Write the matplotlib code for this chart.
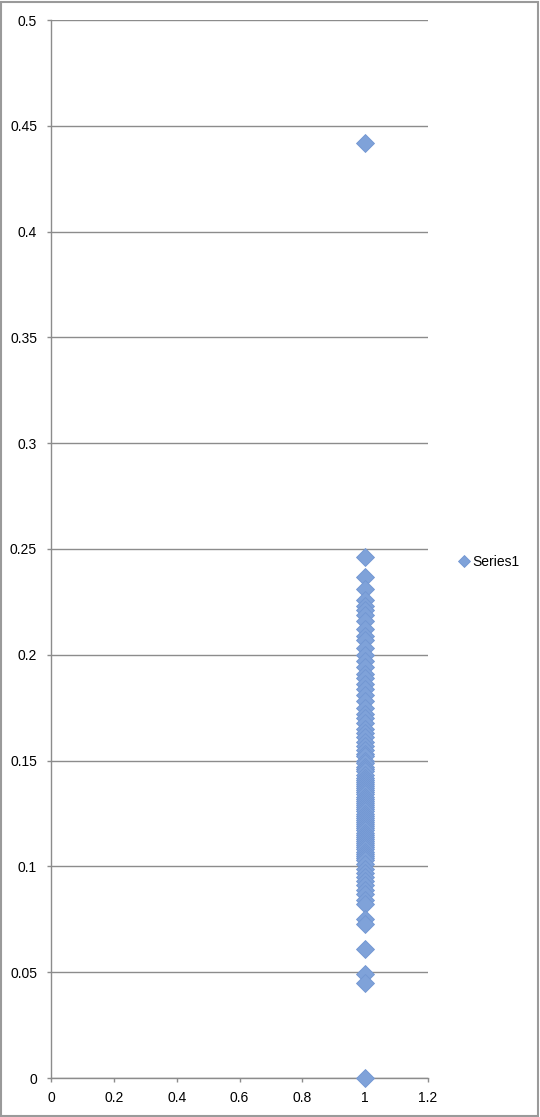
import matplotlib
matplotlib.use("Agg")
import matplotlib.pyplot as plt
from matplotlib.patches import Rectangle

# all points sit at x = 1
y_values = [0.442, 0.246, 0.237, 0.231, 0.226, 0.223, 0.221, 0.219, 0.216, 0.212,
            0.209, 0.207, 0.203, 0.200, 0.197, 0.194, 0.191, 0.189, 0.186, 0.184,
            0.181, 0.178, 0.175, 0.172, 0.170, 0.168, 0.165, 0.163, 0.161, 0.159,
            0.157, 0.155, 0.153, 0.152, 0.150, 0.149, 0.147, 0.146, 0.145, 0.143,
            0.142, 0.141, 0.140, 0.139, 0.138, 0.137, 0.136, 0.135, 0.134, 0.133,
            0.132, 0.131, 0.130, 0.129, 0.128, 0.127, 0.126, 0.125, 0.124, 0.123,
            0.122, 0.121, 0.120, 0.119, 0.118, 0.117, 0.116, 0.115, 0.114, 0.113,
            0.112, 0.111, 0.110, 0.109, 0.108, 0.107, 0.106, 0.105, 0.104, 0.103,
            0.101, 0.099, 0.097, 0.095, 0.093, 0.091, 0.089, 0.087, 0.084, 0.082,
            0.075, 0.073, 0.061, 0.049, 0.045, 0.0]
x_values = [1] * len(y_values)

x_ticks = [0, 0.2, 0.4, 0.6, 0.8, 1, 1.2]
x_labels = ["0", "0.2", "0.4", "0.6", "0.8", "1", "1.2"]
y_ticks = [0, 0.05, 0.1, 0.15, 0.2, 0.25, 0.3, 0.35, 0.4, 0.45, 0.5]
y_labels = ["0", "0.05", "0.1", "0.15", "0.2", "0.25", "0.3", "0.35", "0.4", "0.45", "0.5"]

plt.rcParams["font.family"] = ["Liberation Sans", "DejaVu Sans"]
fig = plt.figure(figsize=(5.4, 11.17), dpi=100)
ax = fig.add_axes([51/540, 39/1117, 377/540, 1058/1117])

ax.plot(x_values, y_values, linestyle="none", marker="D", markersize=9,
        markerfacecolor="#7fa2d9", markeredgecolor="#7196d2", markeredgewidth=0.6,
        label="Series1", clip_on=False, zorder=3)

ax.set_xlim(0, 1.2)
ax.set_ylim(0, 0.5)
ax.set_xticks(x_ticks)
ax.set_xticklabels(x_labels, fontsize=10)
ax.set_yticks(y_ticks)
ax.set_yticklabels(y_labels, fontsize=10)
ax.grid(True, axis="y", color="#8c8c8c", linewidth=1)
ax.set_axisbelow(True)
for s in ["top", "right"]:
    ax.spines[s].set_visible(False)
for s in ["left", "bottom"]:
    ax.spines[s].set_color("#8c8c8c")
    ax.spines[s].set_linewidth(1)
ax.tick_params(axis="both", direction="out", length=3, color="#8c8c8c", width=1)
ax.tick_params(axis="y", pad=7)
ax.tick_params(axis="x", pad=6)

leg = ax.legend(loc="center left", bbox_to_anchor=(1.05, 0.488), frameon=False,
                fontsize=10, handlelength=0.6, handletextpad=0.3, markerscale=0.7)

fig.patches.append(Rectangle((0.002, 0.001), 0.994, 0.997, transform=fig.transFigure,
                             fill=False, edgecolor="#9a9a9a", linewidth=1.5))

fig.savefig("out.png", dpi=100)
